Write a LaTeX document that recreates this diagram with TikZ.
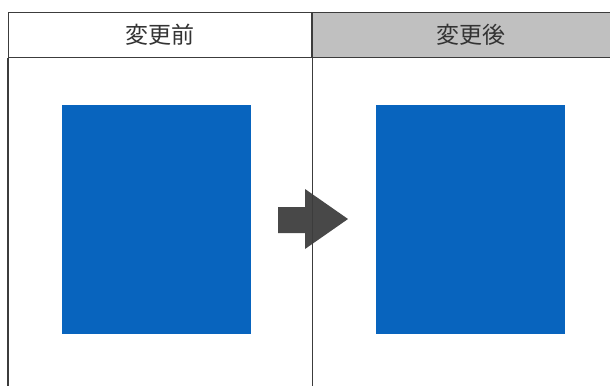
\documentclass[tikz,border=0pt]{standalone}
\usepackage{fontspec}
\newfontfamily\cjk{Noto Sans CJK JP}
\usetikzlibrary{positioning}
\definecolor{headgray}{RGB}{192,192,192}
\definecolor{linegray}{RGB}{60,60,60}
\definecolor{boxblue}{RGB}{8,100,190}
\definecolor{arrowgray}{RGB}{72,72,72}
\tikzset{
  headcell/.style={draw=linegray, line width=1.4pt, minimum height=45pt, inner sep=0pt,
    text=black!80, font=\cjk\fontsize{23}{23}\selectfont},
  bluebox/.style={fill=boxblue, minimum width=189pt, minimum height=229pt, inner sep=0pt},
}
\begin{document}
\begin{tikzpicture}[x=1pt,y=-1pt]
\useasboundingbox (0,0) rectangle (610,386);
\clip (0,0) rectangle (610,386);
\fill[white] (0,0) rectangle (610,386);

% header row
\node[headcell, minimum width=303.5pt] (before) at (160.25,35.2) {変更前};
\node[headcell, minimum width=317pt, fill=headgray] (after) at (470.5,35.2) {変更後};

% blue boxes
\foreach \name/\cx in {oldbox/156, newbox/470}
    \node[bluebox] (\name) at (\cx,219.5) {};

% arrow
\fill[arrowgray] (278,207) -- (305,207) -- (305,189) -- (348,219)
    -- (305,249) -- (305,233) -- (278,233) -- cycle;

% column lines
\draw[linegray, line width=1.4pt] (before.south west) -- (before.south west |- 0,386);
\draw[linegray, line width=1.4pt] (before.south east) -- (before.south east |- 0,386);
\end{tikzpicture}
\end{document}
